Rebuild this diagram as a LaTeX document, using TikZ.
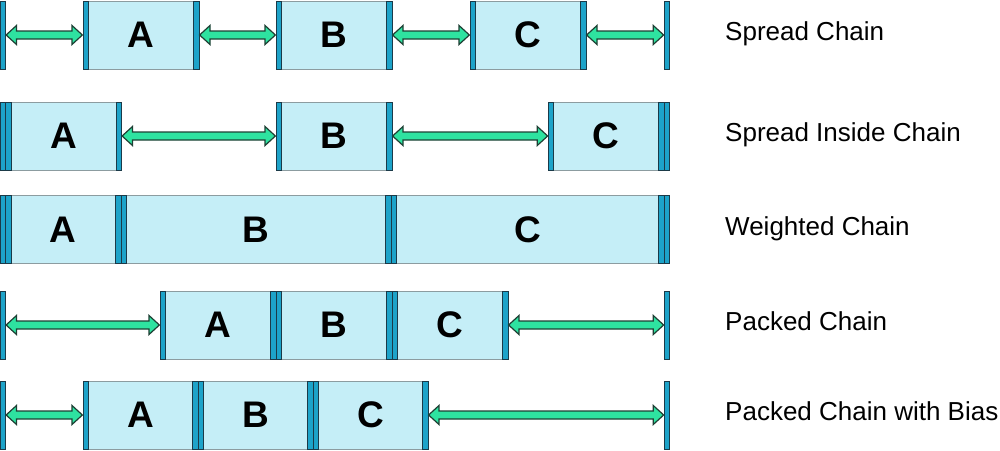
\documentclass[tikz,border=0pt]{standalone}
\usepackage{fontspec}
\setmainfont{Liberation Sans}
\usepackage{tikz}
\usetikzlibrary{positioning, calc}

\definecolor{boxfill}{HTML}{C5EEF7}
\definecolor{boxline}{HTML}{8C9CA0}
\definecolor{barfill}{HTML}{1DA3C9}
\definecolor{barline}{HTML}{1B3A48}
\definecolor{gapfill}{HTML}{2EE3A0}
\definecolor{gapline}{HTML}{1E3F34}

% double-headed spacer arrow between two anchors
\newcommand{\gaparrow}[2]{%
  \draw[gapsty] let \p1=(#1), \p2=(#2) in
    (\x1+0.6pt,\y1) -- (\x1+11pt,\y1+9.5pt) -- (\x1+11pt,\y1+4pt)
    -- (\x2-11pt,\y1+4pt) -- (\x2-11pt,\y1+9.5pt) -- (\x2-0.6pt,\y1)
    -- (\x2-11pt,\y1-9.5pt) -- (\x2-11pt,\y1-4pt)
    -- (\x1+11pt,\y1-4pt) -- (\x1+11pt,\y1-9.5pt) -- cycle;}

\begin{document}
\begin{tikzpicture}[x=1pt, y=-1pt]
                \tikzset{
                    blk/.style={rectangle, draw=boxline, fill=boxfill, line width=0.8pt,
                        minimum width=116pt, minimum height=68pt, inner sep=0pt, outer sep=0pt,
                        font=\bfseries\fontsize{37}{40}\selectfont},
                    wall/.style={rectangle, draw=barline, fill=barfill, line width=1pt,
                        minimum width=5.5pt, minimum height=68pt, inner sep=0pt, outer sep=0pt},
                    bar/.style={draw=barline, fill=barfill, line width=1pt},
                    gapsty/.style={draw=gapline, fill=gapfill, line width=1.2pt, line join=miter},
                    title/.style={anchor=base west, inner sep=0pt, font=\fontsize{26}{28}\selectfont}
                }
                \useasboundingbox (0,0) rectangle (1000,450);

                % BOUNDARY WALLS
                \node[wall] (L1) at (2.75,35) {};
                \node[wall] (R1) at (667,35) {};
                \node[wall] (L2) at (2.75,136) {};
                \node[wall] (R2) at (667,136) {};
                \node[wall] (L3) at (2.75,229.5) {};
                \node[wall] (R3) at (667,229.5) {};
                \node[wall] (L4) at (2.75,325) {};
                \node[wall] (R4) at (667,325) {};
                \node[wall] (L5) at (2.75,415) {};
                \node[wall] (R5) at (667,415) {};

                % SPREAD CHAIN
                \node[blk, anchor=west] (A1) at (83,35) {A};
                \node[blk, anchor=west] (B1) at (276,35) {B};
                \node[blk, anchor=west] (C1) at (470,35) {C};

                % SPREAD INSIDE CHAIN
                \node[blk, anchor=west] (A2) at (5.5,136) {A};
                \node[blk, anchor=west] (B2) at (276,136) {B};
                \node[blk, anchor=east] (C2) at (664.25,136) {C};

                % WEIGHTED CHAIN
                \node[blk, anchor=west, minimum width=115.5pt] (A3) at (5.5,229.5) {A};
                \node[blk, minimum width=270pt] (B3) [right=0pt of A3] {B};
                \node[blk, minimum width=273.25pt] (C3) [right=0pt of B3] {C};

                % PACKED CHAIN
                \node[blk, anchor=west] (A4) at (160,325) {A};
                \node[blk] (B4) [right=0pt of A4] {B};
                \node[blk] (C4) [right=0pt of B4] {C};

                % PACKED CHAIN WITH BIAS
                \node[blk, anchor=west, minimum width=115pt] (A5) at (83,415) {A};
                \node[blk, minimum width=115pt] (B5) [right=0pt of A5] {B};
                \node[blk, minimum width=115pt] (C5) [right=0pt of B5] {C};

                % EDGE BARS
                \foreach \n in {A1,B1,C1,A2,B2,C2,A3,B3,C3,A4,B4,C4,A5,B5,C5} {
                    \draw[bar] (\n.north west) rectangle ([xshift=5.5pt]\n.south west);
                    \draw[bar] ([xshift=-5.5pt]\n.north east) rectangle (\n.south east);
                }

                % SPACERS
                \gaparrow{L1.east}{A1.west}
                \gaparrow{A1.east}{B1.west}
                \gaparrow{B1.east}{C1.west}
                \gaparrow{C1.east}{R1.west}
                \gaparrow{A2.east}{B2.west}
                \gaparrow{B2.east}{C2.west}
                \gaparrow{L4.east}{A4.west}
                \gaparrow{C4.east}{R4.west}
                \gaparrow{L5.east}{A5.west}
                \gaparrow{C5.east}{R5.west}

                % TITLES
                \node[title] (t1) at (725,40.5) {Spread Chain};
                \node[title] (t2) at (725,141.5) {Spread Inside Chain};
                \node[title] (t3) at (725,235) {Weighted Chain};
                \node[title] (t4) at (725,330.5) {Packed Chain};
                \node[title] (t5) at (725,420.5) {Packed Chain with Bias};

            \end{tikzpicture}
\end{document}
